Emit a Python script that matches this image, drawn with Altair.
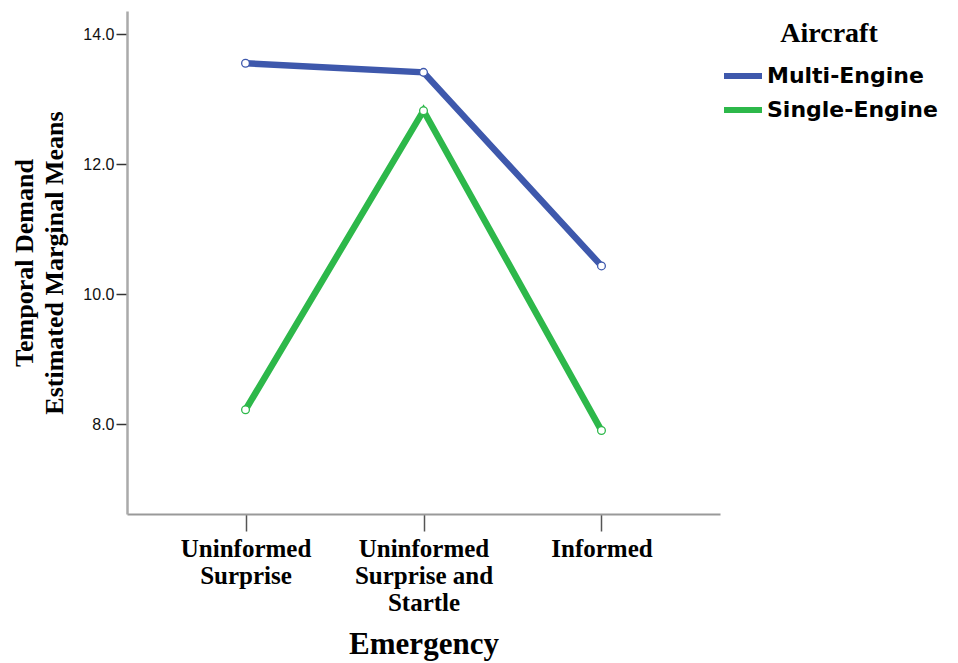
import altair as alt
import pandas as pd

emergency = ["Uninformed Surprise", "Uninformed Surprise and Startle", "Informed"]
aircraft = ["Multi-Engine", "Single-Engine"]
multi_engine = [13.555, 13.415, 10.435]
single_engine = [8.22, 12.825, 7.90]
y_ticks = [8, 10, 12, 14]
colors = ["#3E58AC", "#2DB84A"]

rows = []
for i, e in enumerate(emergency):
    rows.append({"Emergency": e, "Aircraft": aircraft[0], "Mean": multi_engine[i]})
    rows.append({"Emergency": e, "Aircraft": aircraft[1], "Mean": single_engine[i]})
df = pd.DataFrame(rows)

label_expr = ("datum.value == 'Uninformed Surprise' ? ['Uninformed', 'Surprise'] : "
              "datum.value == 'Uninformed Surprise and Startle' ? ['Uninformed', 'Surprise and', 'Startle'] : "
              "datum.value")

x = alt.X("Emergency:N", sort=emergency,
          scale=alt.Scale(type="point", padding=0.666),
          axis=alt.Axis(title="Emergency", labelAngle=0, labelExpr=label_expr,
                        labelFont="Liberation Serif", labelFontWeight="bold", labelFontSize=25,
                        labelColor="#000", labelPadding=5, labelLineHeight=27, labelLimit=300,
                        tickSize=17, tickColor="#555", tickWidth=1.5,
                        domainColor="#999", domainWidth=2,
                        titleFont="Liberation Serif", titleFontWeight="bold", titleFontSize=31,
                        titleColor="#000", titlePadding=14, grid=False))
y = alt.Y("Mean:Q",
          scale=alt.Scale(domain=[6.615, 14.36], nice=False, zero=False),
          axis=alt.Axis(title=["Temporal Demand", "Estimated Marginal Means"],
                        values=y_ticks, format=".1f",
                        labelFont="Liberation Sans", labelFontSize=16, labelColor="#111",
                        labelPadding=2,
                        tickSize=11, tickColor="#333", tickWidth=1.5,
                        domainColor="#aaa", domainWidth=2.5,
                        titleFont="Liberation Serif", titleFontWeight="bold", titleFontSize=26,
                        titleColor="#000", titlePadding=15, titleLineHeight=30, grid=False))
color = alt.Color("Aircraft:N", scale=alt.Scale(domain=aircraft, range=colors),
                  legend=alt.Legend(title="Aircraft", orient="none", legendX=594, legendY=9,
                                    symbolType="stroke", symbolStrokeWidth=6, symbolSize=1444,
                                    labelFont="DejaVu Sans", labelFontWeight="bold", labelFontSize=22,
                                    labelColor="#000", labelOffset=2, rowPadding=0, labelLimit=300,
                                    titleFont="Liberation Serif", titleFontWeight="bold",
                                    titleFontSize=28, titleColor="#000", titleAnchor="middle",
                                    titlePadding=6, titleLimit=300))

lines = alt.Chart(df).mark_line(strokeWidth=6.5).encode(x=x, y=y, color=color)
points = alt.Chart(df).mark_point(filled=True, fill="white", size=60, strokeWidth=1.3,
                                  opacity=1, fillOpacity=1).encode(
    x=x, y=y,
    stroke=alt.Stroke("Aircraft:N", scale=alt.Scale(domain=aircraft, range=colors), legend=None))

chart = (lines + points).properties(
    width=593, height=503,
    background="white",
    autosize=alt.AutoSizeParams(type="none"),
    padding={"left": 127, "top": 11, "right": 238, "bottom": 149},
).configure_view(stroke=None)

chart.save("out.html", embed_options={"renderer": "svg", "actions": False})
